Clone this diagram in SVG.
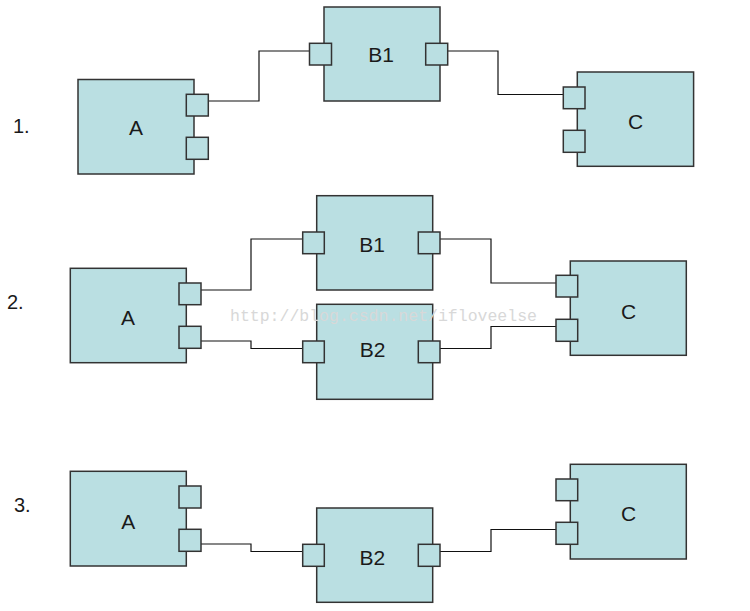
<svg xmlns="http://www.w3.org/2000/svg" width="750" height="611" viewBox="0 0 750 611">
<style>
.box{fill:#badfe2;stroke:#333;stroke-width:1.5}
.port{fill:#badfe2;stroke:#333;stroke-width:1.5}
.wire{fill:none;stroke:#111;stroke-width:1.2}
.lbl{font-family:"Liberation Sans",Arial,sans-serif;font-size:21px;fill:#1a1a1a;text-anchor:middle}
.num{font-family:"Liberation Sans",Arial,sans-serif;font-size:20px;fill:#1a1a1a}
.wm{font-family:"Liberation Mono","Courier New",monospace;font-size:16.5px;fill:#d8d8d8}
</style>
<rect width="750" height="611" fill="#fff"/>
<text class="num" x="13" y="133">1.</text>
<text class="num" x="7" y="309">2.</text>
<text class="num" x="14" y="512">3.</text>

<g id="connectors">
<polyline class="wire" points="208,101 259,101 259,51 309.5,51"/>
<polyline class="wire" points="447.5,51 498,51 498,94.5 563.5,94.5"/>
<polyline class="wire" points="201,290 251,290 251,239 303,239"/>
<polyline class="wire" points="201,341 251,341 251,348.5 303,348.5"/>
<polyline class="wire" points="440,239 491,239 491,283 556,283"/>
<polyline class="wire" points="440,348.5 491,348.5 491,326.5 556,326.5"/>
<polyline class="wire" points="201,544 251,544 251,551.5 303,551.5"/>
<polyline class="wire" points="440,551.5 491,551.5 491,529.5 556,529.5"/>
</g>

<g id="s1-A">
<rect class="box" x="78" y="79.5" width="116" height="94.5"/>
<rect class="port" x="186.3" y="94.3" width="22" height="21.7"/>
<rect class="port" x="186.3" y="137.3" width="22" height="22"/>
<text class="lbl" x="136" y="135">A</text>
</g>
<g id="s1-B1">
<rect class="box" x="324" y="7" width="116" height="94"/>
<rect class="port" x="309.5" y="43.3" width="22" height="21.7"/>
<rect class="port" x="425.7" y="43.3" width="22" height="21.7"/>
<text class="lbl" x="381" y="62">B1</text>
</g>
<g id="s1-C">
<rect class="box" x="577.3" y="72" width="116.3" height="94.3"/>
<rect class="port" x="563.3" y="87" width="21.7" height="21.7"/>
<rect class="port" x="563.3" y="130.3" width="21.7" height="22"/>
<text class="lbl" x="635.5" y="128.5">C</text>
</g>

<g id="s2-A">
<rect class="box" x="70.3" y="268.3" width="116" height="94.4"/>
<rect class="port" x="179" y="283" width="22" height="21.7"/>
<rect class="port" x="179" y="326.3" width="22" height="22"/>
<text class="lbl" x="128" y="325">A</text>
</g>
<g id="s2-B1">
<rect class="box" x="316.7" y="195.7" width="116" height="94.3"/>
<rect class="port" x="302.7" y="232" width="21.6" height="21.7"/>
<rect class="port" x="418.3" y="232" width="21.7" height="21.7"/>
<text class="lbl" x="372" y="252">B1</text>
</g>
<g id="s2-B2">
<rect class="box" x="316.7" y="304.3" width="116" height="95"/>
<rect class="port" x="302.7" y="341" width="21.6" height="21.7"/>
<rect class="port" x="418.3" y="341" width="21.7" height="21.7"/>
<text class="lbl" x="372.5" y="357">B2</text>
</g>
<g id="s2-C">
<rect class="box" x="570.3" y="261" width="116" height="94.3"/>
<rect class="port" x="556" y="275.3" width="21.7" height="21.7"/>
<rect class="port" x="556" y="319.3" width="21.7" height="22"/>
<text class="lbl" x="628.7" y="318.5">C</text>
</g>

<g id="s3-A">
<rect class="box" x="70.3" y="471.3" width="116" height="94.7"/>
<rect class="port" x="179" y="486" width="22" height="22"/>
<rect class="port" x="179" y="529.3" width="22" height="22"/>
<text class="lbl" x="128.3" y="528.5">A</text>
</g>
<g id="s3-B2">
<rect class="box" x="316.7" y="508" width="116" height="94.3"/>
<rect class="port" x="302.7" y="544.3" width="21.6" height="22"/>
<rect class="port" x="418.3" y="544.3" width="21.7" height="22"/>
<text class="lbl" x="372.3" y="565">B2</text>
</g>
<g id="s3-C">
<rect class="box" x="570.3" y="464.3" width="116" height="94.7"/>
<rect class="port" x="556" y="479" width="21.7" height="21.7"/>
<rect class="port" x="556" y="522.3" width="21.7" height="22"/>
<text class="lbl" x="628.7" y="521">C</text>
</g>

<text class="wm" x="230" y="321">http://blog.csdn.net/ifloveelse</text>
</svg>
